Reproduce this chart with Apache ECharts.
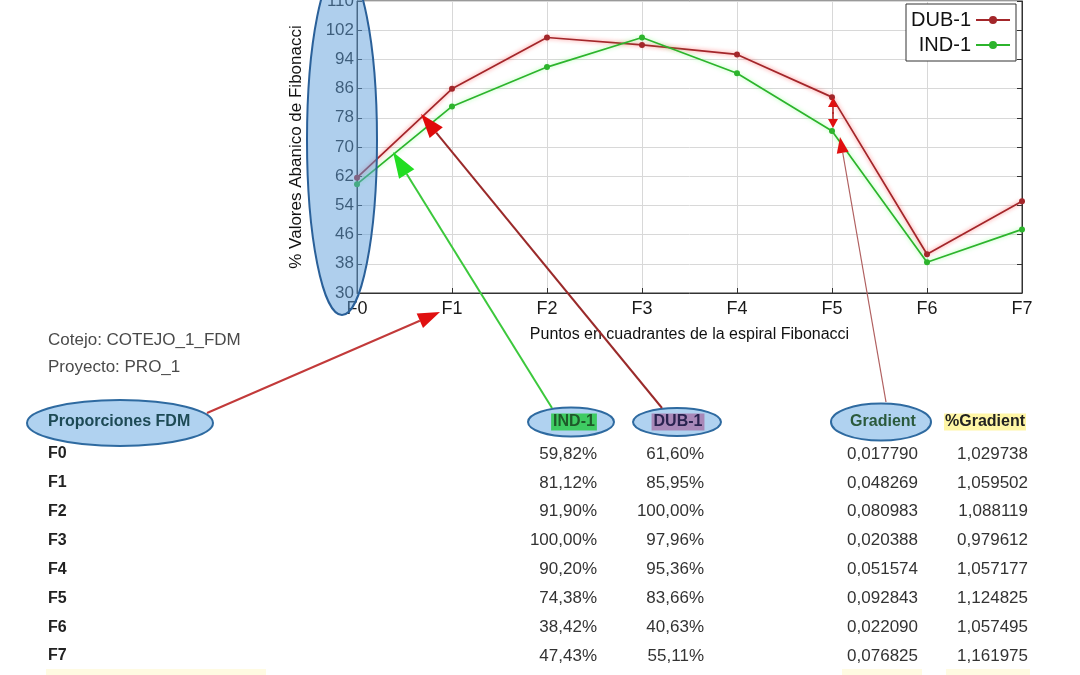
<!DOCTYPE html>
<html><head><meta charset="utf-8">
<script src="https://cdn.jsdelivr.net/npm/echarts@6/dist/echarts.min.js"></script>
<style>html,body{margin:0;padding:0;background:#fff}#c{width:1080px;height:675px}</style>
</head><body><div id="c"></div>
<script>
// ---- data ----
const categories = ['F0','F1','F2','F3','F4','F5','F6','F7'];
const dub1 = [61.60, 85.95, 100.00, 97.96, 95.36, 83.66, 40.63, 55.11];
const ind1 = [59.82, 81.12, 91.90, 100.00, 90.20, 74.38, 38.42, 47.43];
const gradient = [0.017790, 0.048269, 0.080983, 0.020388, 0.051574, 0.092843, 0.022090, 0.076825];
const pctGradient = [1.029738, 1.059502, 1.088119, 0.979612, 1.057177, 1.124825, 1.057495, 1.161975];
const yMin = 30, yMax = 110, yStep = 8;
const infoLines = ['Cotejo: COTEJO_1_FDM', 'Proyecto: PRO_1'];
const headers = ['Proporciones FDM', 'IND-1', 'DUB-1', 'Gradient', '%Gradient'];

const FONT = '"Liberation Sans", Arial, sans-serif';
const pct = v => v.toFixed(2).replace('.', ',') + '%';
const dec6 = v => v.toFixed(6).replace('.', ',');

const chart = echarts.init(document.getElementById('c'), null, {renderer: 'canvas'});

const g = [];
function txt(x, y, s, o) {
  o = o || {};
  g.push({type: 'text', x: x, y: y, z: o.z || 110, style: Object.assign({
    text: s, fontSize: 17, fontFamily: FONT, fill: '#222', align: 'left', verticalAlign: 'middle'
  }, o.style || {})});
}
function ell(cx, cy, rx, ry, fill) {
  g.push({type: 'ellipse', z: 105, shape: {cx: cx, cy: cy, rx: rx, ry: ry},
    style: {fill: fill || 'rgba(150,195,235,0.75)', stroke: '#2e6aa0', lineWidth: 2}});
}
function arrow(x1, y1, x2, y2, lineColor, headColor, lw, L, W) {
  const dx = x2 - x1, dy = y2 - y1, len = Math.sqrt(dx * dx + dy * dy);
  const ux = dx / len, uy = dy / len, nx = -uy, ny = ux;
  const bx = x2 - ux * L, by = y2 - uy * L;
  g.push({type: 'line', z: 120, shape: {x1: x1, y1: y1, x2: bx, y2: by},
    style: {stroke: lineColor, lineWidth: lw}});
  g.push({type: 'polygon', z: 121, shape: {points: [[x2, y2], [bx + nx * W / 2, by + ny * W / 2], [bx - nx * W / 2, by - ny * W / 2]]},
    style: {fill: headColor}});
}

// info lines
infoLines.forEach((s, i) => txt(48, 340 + i * 27, s, {style: {fill: '#4a4a4a', fontSize: 17}}));

// faint yellow marks at bottom
g.push({type: 'rect', z: 1, shape: {x: 46, y: 669, width: 220, height: 6}, style: {fill: '#fffbe2'}});
g.push({type: 'rect', z: 1, shape: {x: 842, y: 669, width: 80, height: 6}, style: {fill: '#fffbe2'}});
g.push({type: 'rect', z: 1, shape: {x: 946, y: 669, width: 84, height: 6}, style: {fill: '#fffbe2'}});

// header ellipses
ell(120, 423, 93, 23);
ell(571, 422, 43, 14.5);
ell(677, 422, 44, 14);
ell(881, 422, 50, 18.5);

// headers
txt(48, 422, headers[0], {style: {fontWeight: 'bold', fill: '#1d4a55', fontSize: 16}});
txt(574, 422, headers[1], {style: {fontWeight: 'bold', fill: '#1f5a2a', fontSize: 16, align: 'center', backgroundColor: '#3ecb62', padding: [1, 2, 0, 2]}});
txt(678, 422, headers[2], {style: {fontWeight: 'bold', fill: '#2a2350', fontSize: 16, align: 'center', backgroundColor: '#a888b8', padding: [1, 2, 0, 2]}});
txt(883, 422, headers[3], {style: {fontWeight: 'bold', fill: '#2b5a3c', fontSize: 16, align: 'center'}});
txt(985, 422, headers[4], {style: {fontWeight: 'bold', fill: '#222', fontSize: 16, align: 'center', backgroundColor: '#fff6a6', padding: [1, 1, 0, 1]}});

// rows
categories.forEach((c, i) => {
  const y = 454 + i * 28.85;
  txt(48, y, c, {style: {fontWeight: 'bold', fill: '#222', fontSize: 16}});
  txt(597, y, pct(ind1[i]), {style: {align: 'right', fill: '#333'}});
  txt(704, y, pct(dub1[i]), {style: {align: 'right', fill: '#333'}});
  txt(918, y, dec6(gradient[i]), {style: {align: 'right', fill: '#333'}});
  txt(1028, y, dec6(pctGradient[i]), {style: {align: 'right', fill: '#333'}});
});

// y-axis highlight ellipse
g.push({type: 'ellipse', z: 100, shape: {cx: 342, cy: 140, rx: 35, ry: 175},
  style: {fill: 'rgba(95,160,220,0.5)', stroke: '#2a6099', lineWidth: 2}});

// arrows
arrow(207, 413, 440, 312, '#c23a3a', '#e01010', 2, 22, 16);
arrow(552, 408, 393, 152, '#3cc83c', '#22dd22', 2, 26, 18);
arrow(662, 408, 421, 114, '#9a2a2a', '#e00a0a', 2, 24, 17);
arrow(886, 402, 840, 137, '#b06060', '#e01010', 1.2, 16, 12);
// double arrow at F5
arrow(833, 114, 833, 98, '#b02020', '#e01010', 1.5, 9, 10);
arrow(833, 112, 833, 128, '#b02020', '#e01010', 1.5, 9, 10);

const axisLabelStyle = {color: '#1a1a1a', fontFamily: FONT};

chart.setOption({
  animation: false,
  backgroundColor: '#fff',
  textStyle: {fontFamily: FONT},
  grid: {left: 357, top: 1, width: 665, height: 292, show: true, borderColor: '#333', borderWidth: 1,
    backgroundColor: 'transparent', containLabel: false, outerBoundsMode: 'none'},
  legend: {
    data: ['DUB-1', 'IND-1'], orient: 'vertical', left: 906, top: 4, align: 'right',
    backgroundColor: '#fff', borderColor: '#333', borderWidth: 1, padding: [6, 5, 6, 5], itemGap: 5,
    itemWidth: 34, itemHeight: 10, textStyle: {fontSize: 20, color: '#111', fontFamily: FONT}
  },
  xAxis: {
    type: 'category', data: categories, boundaryGap: false,
    name: 'Puntos en cuadrantes de la espiral Fibonacci', nameLocation: 'middle', nameGap: 34,
    nameTextStyle: {fontSize: 16, color: '#111', fontFamily: FONT},
    axisLine: {lineStyle: {color: '#333'}},
    axisTick: {inside: true, length: 5, lineStyle: {color: '#333'}},
    axisLabel: Object.assign({fontSize: 18, margin: 7}, axisLabelStyle),
    splitLine: {show: true, lineStyle: {color: '#d8d8d8'}}
  },
  yAxis: [{
    type: 'value', min: yMin, max: yMax, interval: yStep,
    name: '% Valores Abanico de Fibonacci', nameLocation: 'middle', nameGap: 52, nameRotate: 90,
    nameTextStyle: {fontSize: 17, color: '#111', fontFamily: FONT},
    axisLine: {show: true, lineStyle: {color: '#333'}},
    axisTick: {show: true, inside: true, length: 5, lineStyle: {color: '#333'}},
    axisLabel: Object.assign({fontSize: 17, margin: 3}, axisLabelStyle),
    splitLine: {show: true, lineStyle: {color: '#d8d8d8'}}
  }, {
    type: 'value', position: 'right', min: yMin, max: yMax, interval: yStep,
    axisLine: {show: true, lineStyle: {color: '#333'}},
    axisTick: {show: true, inside: true, length: 5, lineStyle: {color: '#333'}},
    axisLabel: {show: false}, splitLine: {show: false}
  }],
  series: [{
    name: 'DUB-1', type: 'line', data: dub1, symbol: 'circle', symbolSize: 6,
    itemStyle: {color: '#a3262a'},
    lineStyle: {width: 1.7, color: '#a3262a', shadowColor: 'rgba(255,30,30,0.6)', shadowBlur: 4}
  }, {
    name: 'IND-1', type: 'line', data: ind1, symbol: 'circle', symbolSize: 6,
    itemStyle: {color: '#2cb42c'},
    lineStyle: {width: 1.7, color: '#2cb42c', shadowColor: 'rgba(90,255,90,0.55)', shadowBlur: 4}
  }],
  graphic: g
});
</script>
</body></html>
